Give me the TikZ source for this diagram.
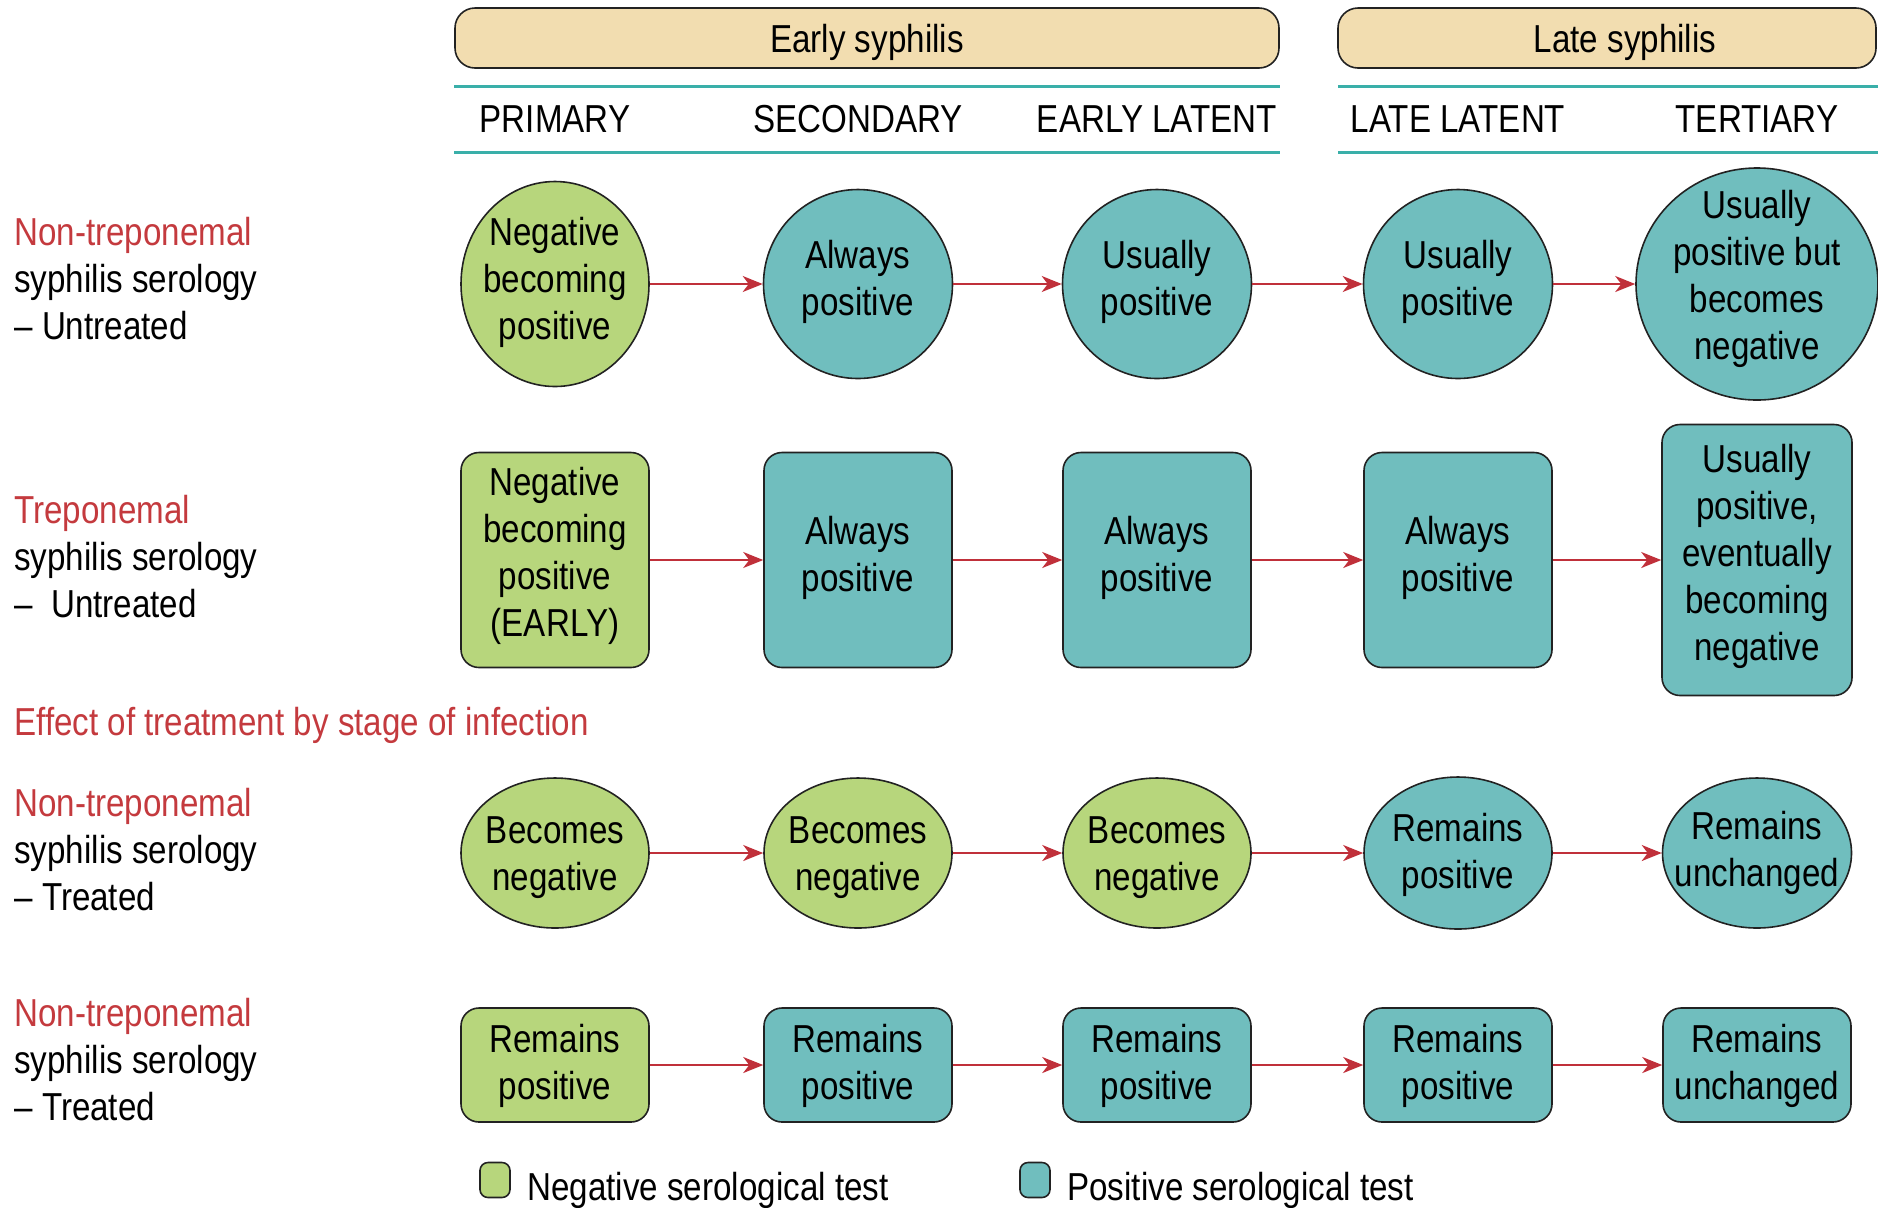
\documentclass[tikz,border=0pt]{standalone}
\usepackage{fontspec}
\setmainfont[FakeStretch=0.85]{Liberation Sans}
\usetikzlibrary{shapes.geometric,arrows.meta}
\definecolor{negG}{HTML}{B7D67C}
\definecolor{posT}{HTML}{70BEBE}
\definecolor{tanF}{HTML}{F2DDB0}
\definecolor{ruleC}{HTML}{3AAFA9}
\definecolor{redtxt}{HTML}{C43A3E}
\definecolor{arrowred}{HTML}{C0303A}
\definecolor{edgeC}{HTML}{222222}
\begin{document}
\begin{tikzpicture}[x=0.5pt,y=-0.5pt,
  txt/.style={font=\fontsize{19.5}{23.5}\selectfont, align=center, inner sep=0pt},
  circ/.style={ellipse, draw=edgeC, line width=0.8pt, inner sep=0pt},
  rbox/.style={rectangle, rounded corners=9pt, draw=edgeC, line width=0.8pt, inner sep=0pt},
  hdr/.style={rectangle, rounded corners=10pt, draw=edgeC, line width=0.8pt, fill=tanF, inner sep=0pt, minimum height=30pt},
  negfill/.style={fill=negG}, posfill/.style={fill=posT},
  flow/.style={draw=arrowred, line width=1pt, -{Stealth[length=10pt,width=8pt,inset=3pt]}},
  ruleline/.style={draw=ruleC, line width=1.5pt},
  lbl/.style={txt, anchor=west, align=left}]
\useasboundingbox (0,0) rectangle (1878,1207);

% headers
\node[hdr, minimum width=412pt] (early) at (867,38) {};
\node[txt] (earlyT) at (867,42) {Early syphilis};
\node[hdr, minimum width=269pt] (late) at (1607,38) {};
\node[txt] (lateT) at (1625,42) {Late syphilis};
\draw[ruleline] (454,86) -- (1280,86);
\draw[ruleline] (454,152) -- (1280,152);
\draw[ruleline] (1338,86) -- (1878,86);
\draw[ruleline] (1338,152) -- (1878,152);
\node[txt] (s1) at (555,119) {PRIMARY};
\node[txt] (s2) at (858,119) {SECONDARY};
\node[txt] (s3) at (1157,119) {EARLY LATENT};
\node[txt] (s4) at (1458,119) {LATE LATENT};
\node[txt] (s5) at (1757,119) {TERTIARY};

% row labels
\node[lbl] (l1) at (14,279) {\textcolor{redtxt}{Non-treponemal}\\syphilis serology\\– Untreated};
\node[lbl] (l2) at (14,557) {\textcolor{redtxt}{Treponemal}\\syphilis serology\\–\ \ Untreated};
\node[lbl, text=redtxt] (eff) at (14,725) {Effect of treatment by stage of infection};
\node[lbl] (l3) at (14,850) {\textcolor{redtxt}{Non-treponemal}\\syphilis serology\\– Treated};
\node[lbl] (l4) at (14,1060) {\textcolor{redtxt}{Non-treponemal}\\syphilis serology\\– Treated};

% row 1
\node[circ,negfill,minimum width=94pt,minimum height=102.5pt] (a1) at (555,284) {};
\node[circ,posfill,minimum width=94.5pt,minimum height=94.5pt] (a2) at (858,284) {};
\node[circ,posfill,minimum width=94.5pt,minimum height=94.5pt] (a3) at (1157,284) {};
\node[circ,posfill,minimum width=94.5pt,minimum height=94.5pt] (a4) at (1458,284) {};
\node[circ,posfill,minimum width=121pt,minimum height=116pt] (a5) at (1757,284) {};
\node[txt] (ta1) at (555,282) {Negative\\becoming\\positive};
\node[txt] (ta2) at (858,282) {Always\\positive};
\node[txt] (ta3) at (1157,282) {Usually\\positive};
\node[txt] (ta4) at (1458,282) {Usually\\positive};
\node[txt] (ta5) at (1757,279) {Usually\\positive but\\becomes\\negative};
\draw[flow] (a1) -- (a2);
\draw[flow] (a2) -- (a3);
\draw[flow] (a3) -- (a4);
\draw[flow] (a4) -- (a5);

% row 2
\node[rbox,negfill,minimum width=94pt,minimum height=107.5pt] (b1) at (555,560) {};
\node[rbox,posfill,minimum width=94pt,minimum height=107.5pt] (b2) at (858,560) {};
\node[rbox,posfill,minimum width=94pt,minimum height=107.5pt] (b3) at (1157,560) {};
\node[rbox,posfill,minimum width=94pt,minimum height=107.5pt] (b4) at (1458,560) {};
\node[rbox,posfill,minimum width=95pt,minimum height=135.5pt] (b5) at (1757,560) {};
\node[txt] (tb1) at (555,556) {Negative\\becoming\\positive\\(EARLY)};
\node[txt] (tb2) at (858,558) {Always\\positive};
\node[txt] (tb3) at (1157,558) {Always\\positive};
\node[txt] (tb4) at (1458,558) {Always\\positive};
\node[txt] (tb5) at (1757,556) {Usually\\positive,\\eventually\\becoming\\negative};
\draw[flow] (b1) -- (b2);
\draw[flow] (b2) -- (b3);
\draw[flow] (b3) -- (b4);
\draw[flow] (b4) -- (b5);

% row 3
\node[circ,negfill,minimum width=94pt,minimum height=75pt] (c1) at (555,853) {};
\node[circ,negfill,minimum width=94pt,minimum height=75pt] (c2) at (858,853) {};
\node[circ,negfill,minimum width=94pt,minimum height=75pt] (c3) at (1157,853) {};
\node[circ,posfill,minimum width=94pt,minimum height=76pt] (c4) at (1458,853) {};
\node[circ,posfill,minimum width=94.5pt,minimum height=75pt] (c5) at (1757,853) {};
\node[txt] (tc1) at (555,858) {Becomes\\negative};
\node[txt] (tc2) at (858,858) {Becomes\\negative};
\node[txt] (tc3) at (1157,858) {Becomes\\negative};
\node[txt] (tc4) at (1458,855) {Remains\\positive};
\node[txt] (tc5) at (1757,853) {Remains\\unchanged};
\draw[flow] (c1) -- (c2);
\draw[flow] (c2) -- (c3);
\draw[flow] (c3) -- (c4);
\draw[flow] (c4) -- (c5);

% row 4
\node[rbox,negfill,minimum width=94pt,minimum height=57pt] (d1) at (555,1065) {};
\node[rbox,posfill,minimum width=94pt,minimum height=57pt] (d2) at (858,1065) {};
\node[rbox,posfill,minimum width=94pt,minimum height=57pt] (d3) at (1157,1065) {};
\node[rbox,posfill,minimum width=94pt,minimum height=57pt] (d4) at (1458,1065) {};
\node[rbox,posfill,minimum width=94pt,minimum height=57pt] (d5) at (1757,1065) {};
\node[txt] (td1) at (555,1066) {Remains\\positive};
\node[txt] (td2) at (858,1066) {Remains\\positive};
\node[txt] (td3) at (1157,1066) {Remains\\positive};
\node[txt] (td4) at (1458,1066) {Remains\\positive};
\node[txt] (td5) at (1757,1066) {Remains\\unchanged};
\draw[flow] (d1) -- (d2);
\draw[flow] (d2) -- (d3);
\draw[flow] (d3) -- (d4);
\draw[flow] (d4) -- (d5);

% legend
\node[rbox,negfill,rounded corners=4pt,minimum width=15pt,minimum height=17.5pt] (lg1) at (495,1180) {};
\node[lbl] (lgt1) at (527,1190) {Negative serological test};
\node[rbox,posfill,rounded corners=4pt,minimum width=15pt,minimum height=17.5pt] (lg2) at (1035,1180) {};
\node[lbl] (lgt2) at (1067,1190) {Positive serological test};
\end{tikzpicture}
\end{document}
